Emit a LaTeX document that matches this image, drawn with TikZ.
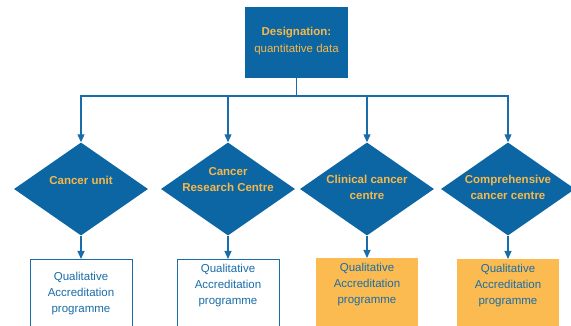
\documentclass[tikz,border=0pt]{standalone}
\usepackage{fontspec}
\setmainfont{Liberation Sans}
\usetikzlibrary{shapes.geometric,arrows.meta}
\definecolor{dblue}{HTML}{0B66A3}
\definecolor{lblue}{HTML}{1A6DA8}
\definecolor{otext}{HTML}{F7B84B}
\definecolor{obox}{HTML}{FBBB50}
\tikzset{
  dia/.style={diamond,fill=dblue,minimum width=134pt,minimum height=93pt,inner sep=0pt},
  dtext/.style={text=otext,font=\fontsize{11.5}{16}\selectfont\bfseries,align=center,inner sep=0pt},
  wbox/.style={draw=lblue,line width=0.9pt,fill=white,minimum width=102pt,minimum height=80pt,inner sep=0pt,anchor=north},
  obx/.style={fill=obox,minimum width=102pt,minimum height=80pt,inner sep=0pt,anchor=north},
  btext/.style={text=lblue,font=\fontsize{11.5}{16}\selectfont,align=center,inner sep=0pt},
  arr/.style={draw=lblue,line width=1.1pt,-{Triangle[width=7pt,length=8pt]}}
}
\begin{document}
\begin{tikzpicture}[x=1pt,y=-1pt]
\useasboundingbox (0,0) rectangle (571,326);
\clip (0,0) rectangle (571,326);
% top box
\node[fill=dblue,minimum width=103pt,minimum height=71pt,inner sep=0pt] (top) at (296.5,42.5) {};
\node[text=otext,font=\fontsize{11.5}{17}\selectfont,align=center,inner sep=0pt] (toptext) at (296.5,41.5) {\textbf{Designation:}\\quantitative data};
% diamonds
\node[dia] (d1) at (81,189) {};
\node[dia] (d2) at (228,189) {};
\node[dia] (d3) at (367,189) {};
\node[dia] (d4) at (508,189) {};
\node[dtext] (t1) at (81,180) {Cancer unit};
\node[dtext] (t2) at (228,179.5) {Cancer\\Research Centre};
\node[dtext] (t3) at (367,187) {Clinical cancer\\centre};
\node[dtext] (t4) at (508,187) {Comprehensive\\cancer centre};
% boxes
\node[wbox] (b1) at (81,259) {};
\node[wbox] (b2) at (228,259) {};
\node[obx] (b3) at (367,258) {};
\node[obx] (b4) at (508,259) {};
\node[btext] (q1) at (81,294) {Qualitative\\Accreditation\\programme};
\node[btext] (q2) at (228,286) {Qualitative\\Accreditation\\programme};
\node[btext] (q3) at (367,284.5) {Qualitative\\Accreditation\\programme};
\node[btext] (q4) at (508,286) {Qualitative\\Accreditation\\programme};
% connectors
\coordinate (hub) at (296.5,96);
\draw[draw=lblue,line width=1.1pt] (top.south) -- (hub);
\foreach \d in {d1,d2,d3,d4}{
  \draw[arr] (hub) -| (\d.north);
}
\draw[arr] (d1.south) -- (b1.north);
\draw[arr] (d2.south) -- (b2.north);
\draw[arr] (d3.south) -- (b3.north);
\draw[arr] (d4.south) -- (b4.north);
\end{tikzpicture}
\end{document}
